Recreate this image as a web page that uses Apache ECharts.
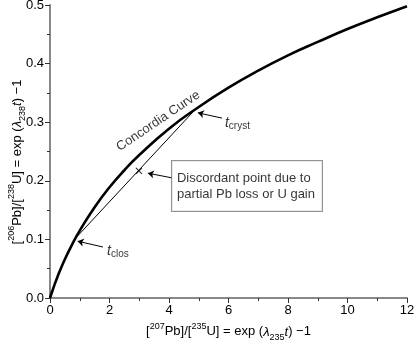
<!DOCTYPE html>
<html>
<head>
<meta charset="utf-8">
<script src="https://cdn.jsdelivr.net/npm/echarts@6/dist/echarts.min.js"></script>
<style>
  html, body { margin: 0; padding: 0; background: #fff; }
  #chart { width: 414px; height: 340px; }
</style>
</head>
<body>
<div id="chart"></div>
<script>
// Concordia curve
const concordiaX = [0, 0.1, 0.25, 0.5, 0.8, 1, 1.5, 2, 2.5, 3, 4, 5, 6, 7, 8, 9, 10, 11, 12];
const concordiaY = [0, 0.015, 0.036, 0.066, 0.097, 0.115, 0.155, 0.189, 0.218, 0.244, 0.289, 0.326, 0.359, 0.388, 0.414, 0.437, 0.459, 0.479, 0.498];

// Discordia chord between t_clos and t_cryst
const discordiaX = [0.84, 4.87];
const discordiaY = [0.101, 0.321];

// The discordant point on the chord
const discordantPoint = [2.99, 0.217];

// Axis ranges
const xRange = [0, 12, 2];
const yRange = [0, 0.5, 0.1];

// Annotation anchors (data units)
const closArrow = [[1.78, 0.087], [0.93, 0.097]];
const crystArrow = [[5.78, 0.307], [4.97, 0.316]];
const boxArrow = [[4.10, 0.205], [3.29, 0.213]];
const closLabelAt = [1.92, 0.080];
const crystLabelAt = [5.88, 0.299];
const curveLabelAt = [3.64, 0.302];
const boxLabelAt = [4.10, 0.191];

const FONT = 'Liberation Sans, Arial, Helvetica, sans-serif';

var chart = echarts.init(document.getElementById('chart'));

// rich styles shared by axis names and labels
var rich = {
  sup: { fontSize: 9, lineHeight: 10, verticalAlign: 'top', fontFamily: FONT, color: '#000' },
  sub: { fontSize: 9, lineHeight: 10, verticalAlign: 'bottom', fontFamily: FONT, color: '#000' },
  it: { fontSize: 13, fontStyle: 'italic', fontFamily: FONT, color: '#000' },
  tt: { fontSize: 14, lineHeight: 16, fontStyle: 'italic', fontFamily: FONT, color: '#000' },
  ts: { fontSize: 10, lineHeight: 10, verticalAlign: 'bottom', fontFamily: FONT, color: '#000' }
};

// same styles for the graphic (zrender uses fill instead of color)
var richFill = {};
Object.keys(rich).forEach(function (k) {
  var s = Object.assign({}, rich[k]);
  s.fill = s.color;
  delete s.color;
  richFill[k] = s;
});

function axisBase(range) {
  return {
    type: 'value',
    min: range[0],
    max: range[1],
    interval: range[2],
    splitLine: { show: false },
    axisLine: { show: true, lineStyle: { color: '#888', width: 2 } },
    axisTick: { show: true, length: 5, lineStyle: { color: '#333', width: 1 } },
    minorTick: { show: true, splitNumber: 2, length: 3, lineStyle: { color: '#333', width: 1 } },
    axisLabel: { fontSize: 13, color: '#000', fontFamily: FONT, margin: 6 },
    nameLocation: 'middle',
    nameTextStyle: { fontSize: 13, color: '#000', fontFamily: FONT, lineHeight: 20, rich: rich }
  };
}

var xAxis = axisBase(xRange);
xAxis.name = '[{sup|207}Pb]/[{sup|235}U] = exp ({it|\u03bb}{sub|235}{it|t}) \u22121';
xAxis.nameGap = 22;

var yAxis = axisBase(yRange);
yAxis.axisLabel.formatter = function (v) { return v.toFixed(1); };

var yName = '[{sup|206}Pb]/[{sup|238}U] = exp ({it|\u03bb}{sub|238}{it|t}) \u22121';

var option = {
  animation: false,
  backgroundColor: '#fff',
  grid: { left: 50, right: 7, top: 5, bottom: 42, containLabel: false, outerBoundsMode: 'none' },
  xAxis: xAxis,
  yAxis: yAxis,
  graphic: [
    {
      type: 'text',
      x: 17,
      y: 162,
      rotation: Math.PI / 2,
      style: {
        text: yName,
        rich: richFill,
        fontSize: 13,
        fontFamily: FONT,
        lineHeight: 20,
        fill: '#000',
        align: 'center',
        verticalAlign: 'middle'
      }
    }
  ],
  series: [
    {
      name: 'Concordia',
      type: 'line',
      smooth: true,
      showSymbol: false,
      lineStyle: { color: '#000', width: 2.6 },
      data: concordiaX.map(function (x, i) { return [x, concordiaY[i]]; }),
      z: 5
    },
    {
      name: 'Discordia',
      type: 'line',
      showSymbol: false,
      lineStyle: { color: '#000', width: 1 },
      data: discordiaX.map(function (x, i) { return [x, discordiaY[i]]; }),
      z: 4
    },
    {
      name: 'Discordant point',
      type: 'scatter',
      symbol: 'path://M0,0L10,10M10,0L0,10',
      symbolSize: 6,
      itemStyle: { color: 'none', borderColor: '#000', borderWidth: 1.2 },
      data: [discordantPoint],
      z: 6
    },
    {
      name: 'Arrows',
      type: 'lines',
      coordinateSystem: 'cartesian2d',
      symbol: ['none', 'arrow'],
      symbolSize: 6,
      lineStyle: { color: '#000', width: 1, opacity: 1 },
      data: [
        { coords: closArrow },
        { coords: crystArrow },
        { coords: boxArrow }
      ],
      z: 6
    },
    {
      name: 'Labels',
      type: 'scatter',
      symbolSize: 0,
      silent: true,
      z: 7,
      data: [
        {
          value: closLabelAt,
          label: { show: true, position: 'right', distance: 0, formatter: '{tt|t}{ts|clos}', rich: rich }
        },
        {
          value: crystLabelAt,
          label: { show: true, position: 'right', distance: 0, formatter: '{tt|t}{ts|cryst}', rich: rich }
        },
        {
          value: curveLabelAt,
          label: {
            show: true, position: 'inside', rotate: 34,
            formatter: 'Concordia Curve',
            fontSize: 13, color: '#000', fontFamily: FONT
          }
        },
        {
          value: boxLabelAt,
          label: {
            show: true, position: 'right', distance: 0,
            formatter: 'Discordant point due to\npartial Pb loss or U gain',
            fontSize: 13, lineHeight: 16, color: '#000', fontFamily: FONT,
            backgroundColor: '#fff', borderColor: '#777', borderWidth: 1,
            padding: [9, 7, 9, 5]
          }
        }
      ]
    }
  ]
};

chart.setOption(option);
</script>
</body>
</html>
